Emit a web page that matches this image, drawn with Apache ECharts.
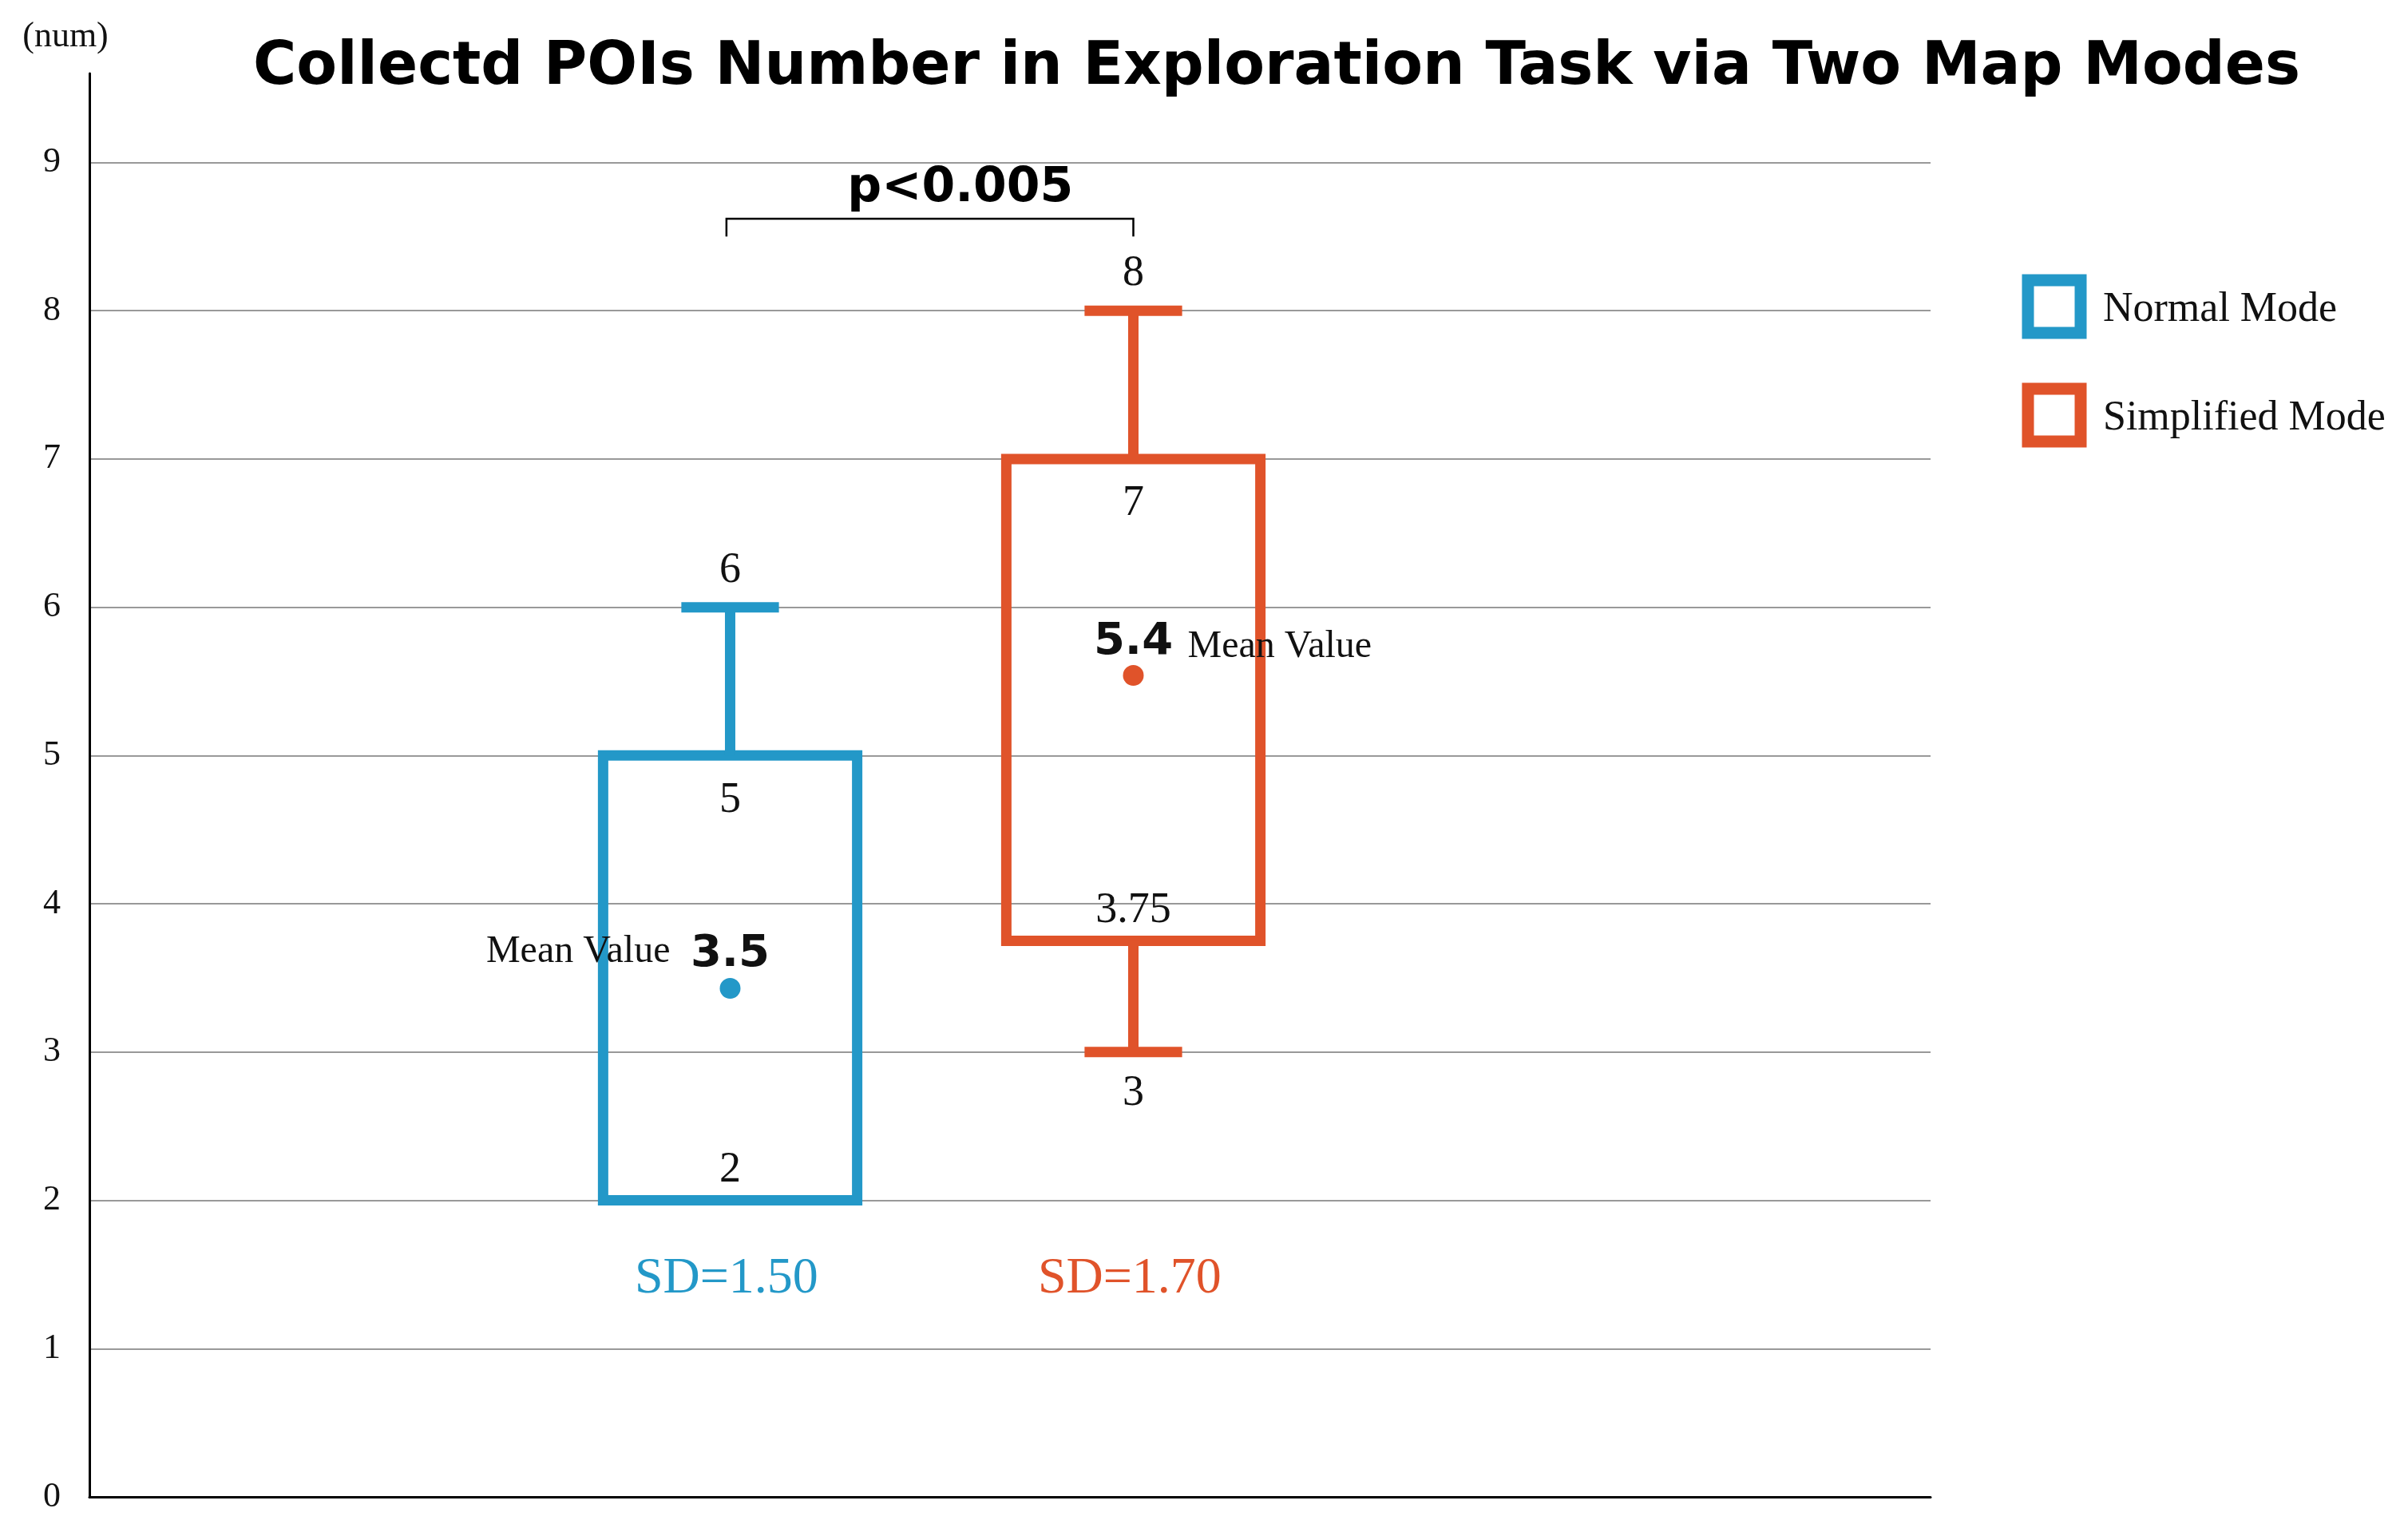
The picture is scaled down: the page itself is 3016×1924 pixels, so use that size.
<!DOCTYPE html>
<html>
<head>
<meta charset="utf-8">
<script src="https://cdn.jsdelivr.net/npm/echarts@6/dist/echarts.min.js"></script>
<style>html,body{margin:0;padding:0;background:#fff;}#main{width:3016px;height:1924px;}</style>
</head>
<body>
<div id="main"></div>
<script>
// data
var modes = ['Normal Mode', 'Simplified Mode'];
var xPos = [34.8, 56.7];
var lowWhisker = [2, 3];
var q1 = [2, 3.75];
var q3 = [5, 7];
var highWhisker = [6, 8];
var meanDot = [3.43, 5.54];
var meanText = ['3.5', '5.4'];
var sdText = ['SD=1.50', 'SD=1.70'];
var colors = ['#2398C8', '#E0532A'];

var serif = '"Liberation Serif", "DejaVu Serif", serif';
var heavy = '"DejaVu Sans", "Liberation Sans", sans-serif';

var boxHalf = 6.9, capHalf = 2.65;

var chart = echarts.init(document.getElementById('main'));

function renderBox(params, api) {
    var i = params.dataIndex;
    var c = colors[i], x = xPos[i];
    var lw = 13;
    var tl = api.coord([x - boxHalf, q3[i]]);
    var br = api.coord([x + boxHalf, q1[i]]);
    var top = api.coord([x, highWhisker[i]]);
    var bot = api.coord([x, lowWhisker[i]]);
    var capL = api.coord([x - capHalf, 0])[0];
    var capR = api.coord([x + capHalf, 0])[0];
    var mid = api.coord([x, meanDot[i]]);
    var cx = top[0];
    var kids = [
        { type: 'rect', shape: { x: tl[0], y: tl[1], width: br[0] - tl[0], height: br[1] - tl[1] },
          style: { fill: 'none', stroke: c, lineWidth: lw } },
        { type: 'line', shape: { x1: cx, y1: top[1], x2: cx, y2: tl[1] }, style: { stroke: c, lineWidth: lw } },
        { type: 'line', shape: { x1: capL, y1: top[1], x2: capR, y2: top[1] }, style: { stroke: c, lineWidth: lw } },
        { type: 'circle', shape: { cx: mid[0], cy: mid[1], r: 13 }, style: { fill: c } }
    ];
    if (lowWhisker[i] < q1[i]) {
        kids.push({ type: 'line', shape: { x1: cx, y1: br[1], x2: cx, y2: bot[1] }, style: { stroke: c, lineWidth: lw } });
        kids.push({ type: 'line', shape: { x1: capL, y1: bot[1], x2: capR, y2: bot[1] }, style: { stroke: c, lineWidth: lw } });
    }
    function txt(s, px, py, o) {
        var st = { text: s, x: px, y: py, fill: '#111', font: '54px ' + serif, align: 'center', verticalAlign: 'middle' };
        for (var k in o) st[k] = o[k];
        kids.push({ type: 'text', style: st });
    }
    txt(String(highWhisker[i]), cx, top[1] - 46);
    txt(String(q3[i]), cx, tl[1] + 56);
    txt(String(q1[i]), cx, br[1] - 38);
    if (lowWhisker[i] < q1[i]) txt(String(lowWhisker[i]), cx, bot[1] + 52);
    if (i === 0) {
        txt(meanText[i], cx, mid[1] - 42, { font: 'bold 56px ' + heavy });
        txt('Mean Value', cx - 75, mid[1] - 46, { align: 'right', font: '48px ' + serif });
    } else {
        txt(meanText[i], cx, mid[1] - 42, { font: 'bold 56px ' + heavy });
        txt('Mean Value', cx + 68, mid[1] - 36, { align: 'left', font: '48px ' + serif });
    }
    var sd = api.coord([x - 0.2, 1.47]);
    txt(sdText[i], sd[0], sd[1], { fill: c, font: '64px ' + serif });
    return { type: 'group', children: kids };
}

function renderBracket(params, api) {
    var a = api.coord([xPos[0] - 0.2, 8.62]);
    var b = api.coord([xPos[1], 8.62]);
    var a2 = api.coord([xPos[0] - 0.2, 8.5]);
    var t = api.coord([47.3, 8.82]);
    return { type: 'group', children: [
        { type: 'polyline', shape: { points: [[a[0], a2[1]], a, b, [b[0], a2[1]]] }, style: { stroke: '#000', lineWidth: 2.5, fill: 'none' } },
        { type: 'text', style: { text: 'p<0.005', x: t[0], y: t[1], align: 'center', verticalAlign: 'middle', font: 'bold 60px ' + heavy, fill: '#000' } }
    ] };
}

var legendKids = [];
modes.forEach(function (m, i) {
    var y0 = 343 + i * 136;
    legendKids.push({ type: 'rect', shape: { x: 2540, y: y0 + 8, width: 66, height: 66 }, style: { fill: 'none', stroke: colors[i], lineWidth: 15 } });
    legendKids.push({ type: 'text', style: { text: m, x: 2634, y: y0 + 45, verticalAlign: 'middle', font: '52px ' + serif, fill: '#111' } });
});

var option = {
    backgroundColor: '#fff',
    animation: false,
    title: {
        text: 'Collectd POIs Number in Exploration Task via Two Map Modes',
        left: 1594, top: 44, textAlign: 'center',
        textStyle: { fontFamily: heavy, fontWeight: 'bold', fontSize: 74, color: '#000' }
    },
    grid: { left: 112, right: 598, top: 92, bottom: 49 },
    xAxis: {
        type: 'value', min: 0, max: 100,
        axisLine: { show: true, lineStyle: { color: '#000', width: 3 } },
        axisTick: { show: false }, axisLabel: { show: false }, splitLine: { show: false }
    },
    yAxis: {
        type: 'value', min: 0, max: 9.6, interval: 1,
        name: '(num)', nameLocation: 'end', nameGap: 0,
        nameTextStyle: { fontFamily: serif, fontSize: 44, color: '#111', align: 'center', padding: [0, 60, 24, 0] },
        axisLine: { show: true, lineStyle: { color: '#000', width: 3 } },
        axisTick: { show: false },
        axisLabel: { margin: 36, fontFamily: serif, fontSize: 44, color: '#111',
            formatter: function (v) { return Math.abs(v - Math.round(v)) < 1e-6 ? String(Math.round(v)) : ''; } },
        splitLine: { show: true, showMaxLine: false, lineStyle: { color: '#999', width: 2 } }
    },
    graphic: legendKids,
    series: [
        { type: 'custom', renderItem: renderBox, data: modes.map(function (m, i) { return [xPos[i], highWhisker[i]]; }), z: 5 },
        { type: 'custom', renderItem: renderBracket, data: [[47, 8.6]], z: 5 }
    ]
};
chart.setOption(option);
</script>
</body>
</html>
